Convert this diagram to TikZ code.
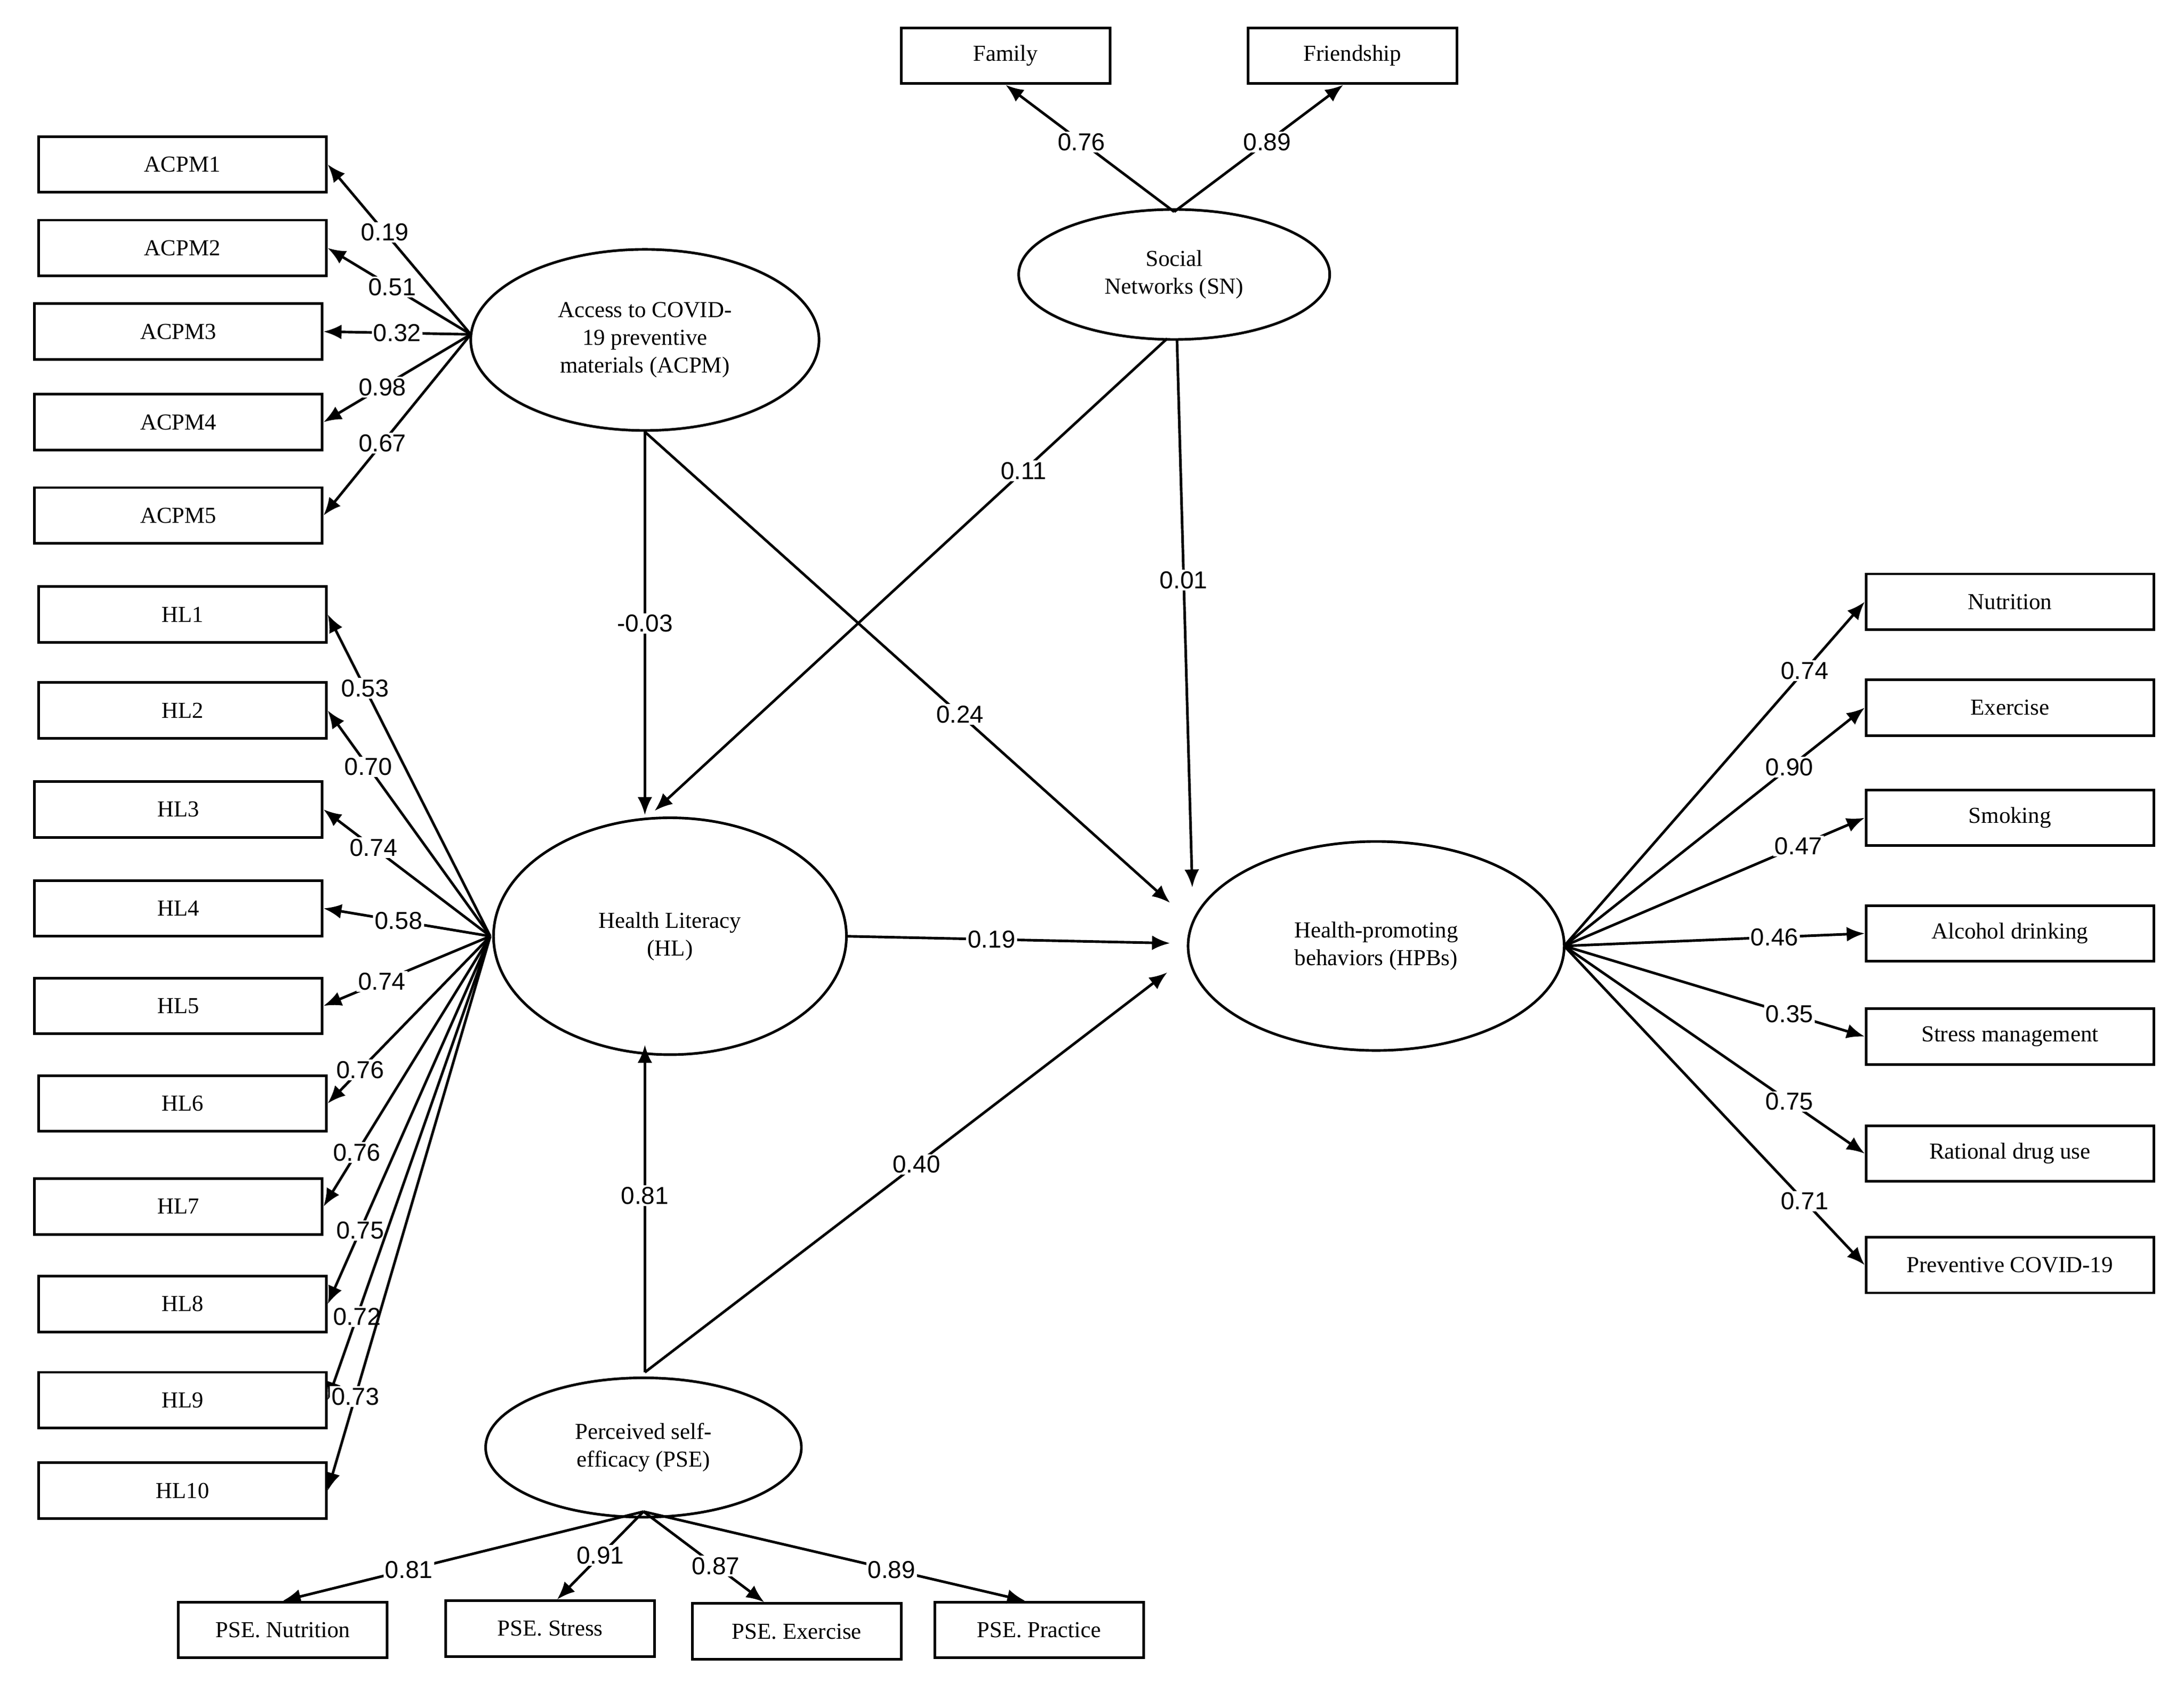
\documentclass[tikz,border=0pt]{standalone}
\usepackage{fontspec}
\setmainfont{Liberation Serif}
\newfontfamily\numf{Liberation Sans}
\usetikzlibrary{arrows.meta,shapes.geometric}
\begin{document}
\begin{tikzpicture}[x=0.03cm,y=-0.03cm,
 box/.style={draw,line width=1.6pt,minimum width=6.2cm,minimum height=1.2cm,inner sep=0pt,font=\fontsize{14}{16}\selectfont},
 sbox/.style={box,minimum width=4.5cm},
 ell/.style={draw,ellipse,line width=1.6pt,inner sep=0pt,align=center,font=\fontsize{14}{17}\selectfont},
 ar/.style={line width=1.6pt,-{Latex[length=11pt,width=9pt]}},
 lb/.style={fill=white,inner sep=1pt,font=\numf\fontsize{15}{17}\selectfont}]
\useasboundingbox (0,0) rectangle (1568,1208);
% latent
\node[ell,minimum width=7.5cm,minimum height=3.9cm] (acpm) at (463,244) {Access to COVID-\\19 preventive\\materials (ACPM)};
\node[ell,minimum width=6.7cm,minimum height=2.8cm] (sn) at (843,197) {Social\\Networks (SN)};
\node[ell,minimum width=7.6cm,minimum height=5.1cm] (hl) at (481,672) {Health Literacy\\(HL)};
\node[ell,minimum width=8.1cm,minimum height=4.5cm] (hpb) at (988,679) {Health-promoting\\behaviors (HPBs)};
\node[ell,minimum width=6.8cm,minimum height=3cm] (pse) at (462,1039) {Perceived self-\\efficacy (PSE)};
% boxes
\node[sbox] (fam) at (722,40) {Family};
\node[sbox] (fri) at (971,40) {Friendship};
\foreach \n/\x/\y in {ACPM1/131/118,ACPM2/131/178,ACPM3/128/238,ACPM4/128/303,ACPM5/128/370,
 HL1/131/441,HL2/131/510,HL3/128/581,HL4/128/652,HL5/128/722,HL6/131/792,HL7/128/866,HL8/131/936,HL9/131/1005,HL10/131/1070}
 \node[box] (\n) at (\x,\y) {\n};
\foreach \n/\t/\y in {r1/Nutrition/432,r2/Exercise/508,r3/Smoking/587,r4/Alcohol drinking/670,r5/Stress management/744,r6/Rational drug use/828,r7/Preventive COVID-19/908}
 \node[box] (\n) at (1443,\y) {\t};
\node[sbox] (p1) at (203,1170) {PSE. Nutrition};
\node[sbox] (p2) at (395,1169) {PSE. Stress};
\node[sbox] (p3) at (572,1171) {PSE. Exercise};
\node[sbox] (p4) at (746,1170) {PSE. Practice};
% anchors
\coordinate (sa) at (843,152);
\coordinate (aa) at (338,240);
\coordinate (ha) at (352,672);
\coordinate (pa) at (462,1085);
\coordinate (ra) at (1123,679);
% SN
\draw[ar] (sa) -- (fam.south) node[lb,pos=0.55] {0.76};
\draw[ar] (sa) -- ([xshift=-0.2cm]fri.south) node[lb,pos=0.55] {0.89};
% ACPM
\foreach \b/\v/\p in {ACPM1/0.19/0.6,ACPM2/0.51/0.55,ACPM3/0.32/0.5,ACPM4/0.98/0.6,ACPM5/0.67/0.6}
 \draw[ar] (aa) -- (\b.east) node[lb,pos=\p] {\v};
% HL
\foreach \b/\v/\p in {HL1/0.53/0.77,HL2/0.70/0.75,HL3/0.74/0.7,HL4/0.58/0.55,HL5/0.74/0.65,HL6/0.76/0.8,HL7/0.76/0.8,HL8/0.75/0.8,HL9/0.72/0.82,HL10/0.73/0.83}
 \draw[ar] (ha) -- (\b.east) node[lb,pos=\p] {\v};
% HPB
\foreach \b/\v/\p in {r1/0.74/0.8,r2/0.90/0.75,r3/0.47/0.78,r4/0.46/0.7,r5/0.35/0.75,r6/0.75/0.75,r7/0.71/0.8}
 \draw[ar] (ra) -- (\b.west) node[lb,pos=\p] {\v};
% PSE
\draw[ar] (pa) -- (p1.north) node[lb,pos=0.65] {0.81};
\draw[ar] (pa) -- ([xshift=0.15cm]p2.north) node[lb,pos=0.5] {0.91};
\draw[ar] (pa) -- ([xshift=-0.7cm]p3.north) node[lb,pos=0.6] {0.87};
\draw[ar] (pa) -- ([xshift=-0.3cm]p4.north) node[lb,pos=0.65] {0.89};
% structural
\coordinate (a1) at (463,310);
\draw[ar] (a1) -- (463,585) node[lb,pos=0.5] {-0.03};
\draw[ar] (a1) -- (840,648) node[lb,pos=0.6] {0.24};
\draw[ar] (838,243) -- (470,582) node[lb,pos=0.28] {0.11};
\draw[ar] (845,243) -- (856,637) node[lb,pos=0.44] {0.01};
\draw[ar] (607,672) -- (840,677) node[lb,pos=0.45] {0.19};
\coordinate (p0) at (463,985);
\draw[ar] (p0) -- (463,750) node[lb,pos=0.54] {0.81};
\draw[ar] (p0) -- (838,698) node[lb,pos=0.52] {0.40};
\end{tikzpicture}
\end{document}
